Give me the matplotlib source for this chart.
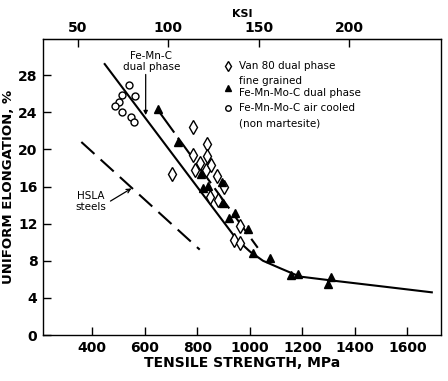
import numpy as np
import matplotlib.pyplot as plt
from matplotlib.lines import Line2D

# data (MPa, uniform elongation %)
van80_ts = [784, 835, 784, 835, 809, 790, 832, 850, 705, 875, 901, 847, 879, 962, 939, 964]
van80_el = [22.4, 20.6, 19.4, 19.3, 18.5, 17.8, 17.8, 18.3, 17.4, 17.1, 16.0, 14.9, 14.5, 11.7, 10.2, 9.9]

fine_ts = [650, 726, 813, 822, 841, 892, 896, 943, 920, 993, 1013, 1077, 1155, 1182, 1308, 1296]
fine_el = [24.4, 20.8, 17.3, 15.8, 16.1, 16.5, 14.2, 13.1, 12.6, 11.4, 8.8, 8.3, 6.5, 6.6, 6.3, 5.5]

air_ts = [538, 514, 561, 501, 485, 511, 549, 559]
air_el = [26.9, 25.9, 25.8, 25.1, 24.7, 24.0, 23.5, 23.0]

# trend curves
femnc_ts = [447, 950, 1000, 1050, 1115, 1190, 1305, 1500, 1693]
femnc_el = [29.2, 10.3, 9.0, 8.0, 7.2, 6.3, 5.9, 5.25, 4.6]
finefit_ts = [656, 1030]
finefit_el = [24.0, 9.4]
hsla_ts = [358, 809]
hsla_el = [20.8, 9.2]

xticks = [400, 600, 800, 1000, 1200, 1400, 1600]
yticks = [0, 4, 8, 12, 16, 20, 24, 28]
ksi_ticks = [50, 100, 150, 200]
MPA_PER_KSI = 6.895

fig = plt.figure(figsize=(4.48, 3.81), dpi=100)
ax = fig.add_axes([0.096, 0.1207, 0.8884, 0.7769])

ax.plot(femnc_ts, femnc_el, color='black', lw=1.5)
ax.plot(finefit_ts, finefit_el, color='black', lw=1.5, dashes=(12, 3))
ax.plot(hsla_ts, hsla_el, color='black', lw=1.5, dashes=(8.5, 4))

h1, = ax.plot(van80_ts, van80_el, linestyle='none', marker='d', markersize=7,
              mfc='white', mec='black', mew=1.0, label='Van 80 dual phase')
h2, = ax.plot(fine_ts, fine_el, linestyle='none', marker='^', markersize=6,
              mfc='black', mec='black', label='fine grained\nFe-Mn-Mo-C dual phase')
h3, = ax.plot(air_ts, air_el, linestyle='none', marker='o', markersize=5,
              mfc='white', mec='black', mew=1.0, label='Fe-Mn-Mo-C air cooled')
blank = Line2D([], [], linestyle='none', label='(non martesite)')

ax.legend(handles=[h1, h2, h3, blank], loc='upper left', bbox_to_anchor=(0.452, 0.925),
          frameon=False, fontsize=7.5, handlelength=1.0, handletextpad=0.5,
          labelspacing=0.5, borderpad=0, borderaxespad=0, markerscale=0.8)

ax.annotate('Fe-Mn-C\ndual phase', xy=(603, 23.7), xytext=(625, 29.5),
            ha='center', va='center', fontsize=7.5, linespacing=1.1,
            arrowprops=dict(arrowstyle='-|>', color='black', lw=0.9,
                            mutation_scale=6, shrinkA=0, shrinkB=0,
                            relpos=(0.4, 0.0)))
ax.annotate('HSLA\nsteels', xy=(549, 15.8), xytext=(395, 14.4),
            ha='center', va='center', fontsize=7.5, linespacing=1.1,
            arrowprops=dict(arrowstyle='->', color='black', lw=0.9,
                            mutation_scale=7, shrinkA=1, shrinkB=0,
                            relpos=(1.0, 0.4)))

ax.set_xlim(212, 1728)
ax.set_ylim(0, 31.9)
ax.set_xticks(xticks)
ax.set_yticks(yticks)
ax.tick_params(axis='both', direction='in', length=6, width=1.0, labelsize=10, pad=4)
for lab in ax.get_xticklabels() + ax.get_yticklabels():
    lab.set_fontweight('bold')
for s in ax.spines.values():
    s.set_linewidth(1.0)

ax.set_xlabel('TENSILE STRENGTH, MPa', fontsize=10, fontweight='bold', labelpad=1)
ax.set_ylabel('UNIFORM ELONGATION, %', fontsize=9.5, fontweight='bold', labelpad=2)

top = ax.secondary_xaxis('top', functions=(lambda m: m / MPA_PER_KSI,
                                           lambda k: k * MPA_PER_KSI))
top.set_xticks(ksi_ticks)
top.tick_params(direction='in', length=6, width=1.0, labelsize=10, pad=3)
for lab in top.get_xticklabels():
    lab.set_fontweight('bold')
top.set_xlabel('KSI', fontsize=8, fontweight='bold', labelpad=3)

fig.savefig('out.png', dpi=100)
